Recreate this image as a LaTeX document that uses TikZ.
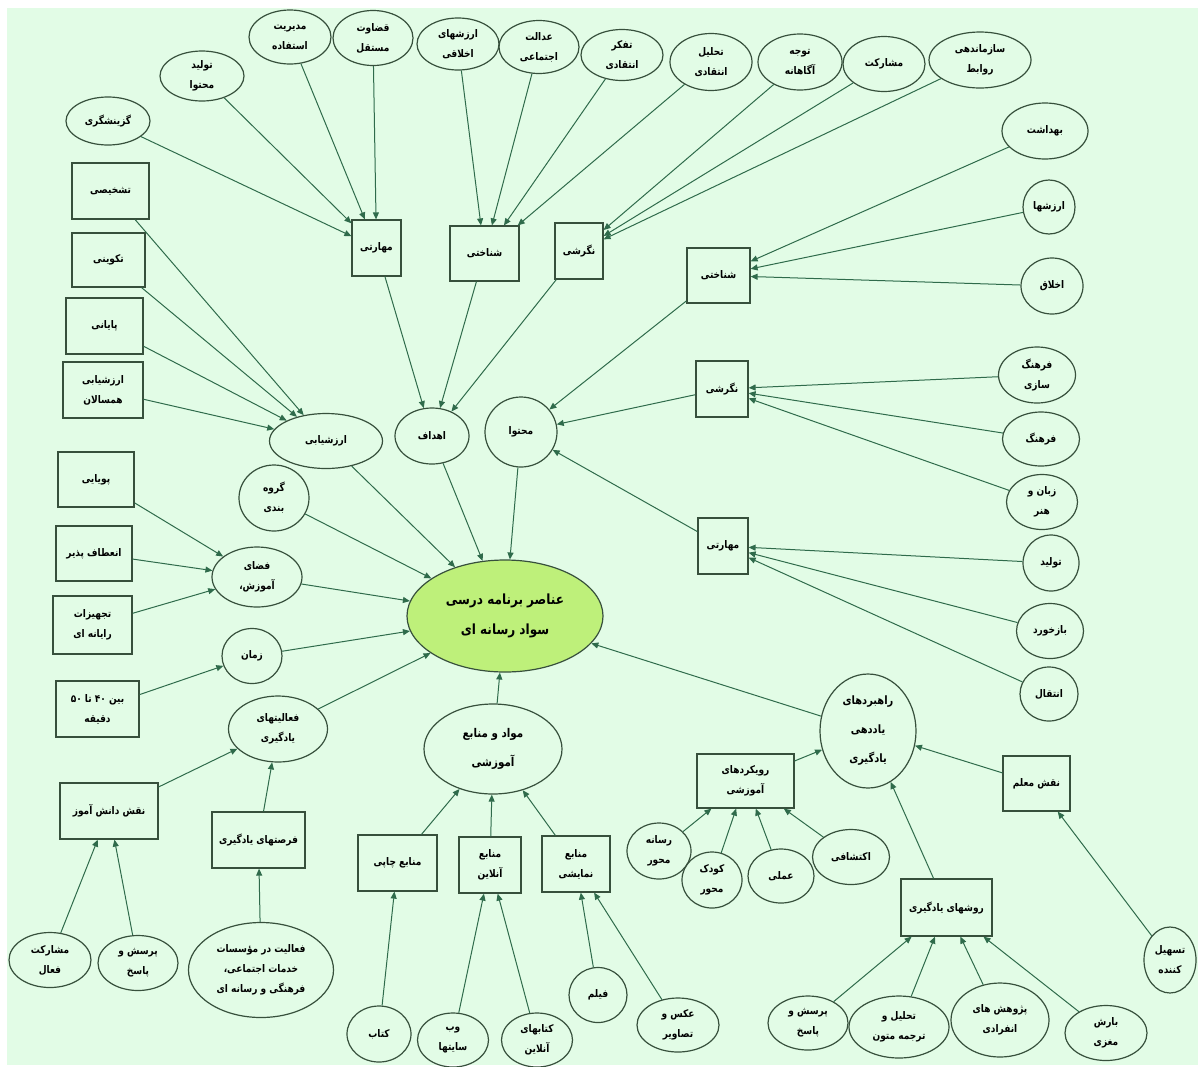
\documentclass[tikz,border=0pt]{standalone}
\usepackage{fontspec}
\usetikzlibrary{shapes.geometric,arrows.meta}
\newfontfamily\fafont[Script=Arabic,FakeStretch=0.86]{DejaVu Sans}
\TeXXeTstate=1
\newcommand{\RL}[1]{\beginR #1\endR}
\definecolor{bgmint}{RGB}{226,252,230}
\definecolor{edgecol}{RGB}{47,107,75}
\definecolor{nodecol}{RGB}{55,80,60}
\definecolor{corefill}{RGB}{190,240,122}
\tikzset{
  sz/.style 2 args={minimum width=#1pt, minimum height=#2pt},
  ell/.style={ellipse, draw=nodecol, line width=1.2pt, inner sep=0pt, align=center,
    font=\fafont\bfseries\fontsize{10.5}{20}\selectfont},
  rbox/.style={rectangle, draw=nodecol, line width=1.2pt, inner sep=0pt, align=center,
    font=\fafont\bfseries\fontsize{10.5}{20}\selectfont},
  arr/.style={draw=edgecol, line width=1pt, -{Triangle[length=7pt,width=6pt]}},
}
\begin{document}
\begin{tikzpicture}[x=1pt,y=-1pt]
\useasboundingbox (0,0) rectangle (1198,1066);
\fill[white] (0,0) rectangle (1198,1066);
\fill[bgmint] (7,8) rectangle (1198,1065);
% top row
\node[ell, sz={84}{48}] (n1) at (108,121) {\RL{گزینشگری}};
\node[ell, sz={84}{50}] (n2) at (202,76) {\RL{تولید}\\\RL{محتوا}};
\node[ell, sz={82}{54}] (n3) at (290,37) {\RL{مدیریت}\\\RL{استفاده}};
\node[ell, sz={80}{55}] (n4) at (373,38) {\RL{قضاوت}\\\RL{مستقل}};
\node[ell, sz={82}{52}] (n5) at (458,44) {\RL{ارزشهای}\\\RL{اخلاقی}};
\node[ell, sz={80}{53}] (n6) at (539,47) {\RL{عدالت}\\\RL{اجتماعی}};
\node[ell, sz={82}{51}] (n7) at (622,55) {\RL{تفکر}\\\RL{انتقادی}};
\node[ell, sz={82}{57}] (n8) at (711,62) {\RL{تحلیل}\\\RL{انتقادی}};
\node[ell, sz={84}{56}] (n9) at (800,62) {\RL{توجه}\\\RL{آگاهانه}};
\node[ell, sz={82}{55}] (n10) at (884,64) {\RL{مشارکت}};
\node[ell, sz={102}{56}] (n11) at (980,60) {\RL{سازماندهی}\\\RL{روابط}};
% right column
\node[ell, sz={86}{56}] (r1) at (1045,131) {\RL{بهداشت}};
\node[ell, sz={52}{54}] (r2) at (1049,207) {\RL{ارزشها}};
\node[ell, sz={62}{56}] (r3) at (1052,286) {\RL{اخلاق}};
\node[ell, sz={77}{56}] (r4) at (1037,375) {\RL{فرهنگ}\\\RL{سازی}};
\node[ell, sz={77}{54}] (r5) at (1041,439) {\RL{فرهنگ}};
\node[ell, sz={71}{55}] (r6) at (1042,502) {\RL{زبان و}\\\RL{هنر}};
\node[ell, sz={56}{56}] (r7) at (1051,563) {\RL{تولید}};
\node[ell, sz={67}{55}] (r8) at (1050,631) {\RL{بازخورد}};
\node[ell, sz={58}{54}] (r9) at (1049,694) {\RL{انتقال}};
% boxes
\node[rbox, sz={49}{56}] (b1) at (376.5,248) {\RL{مهارتی}};
\node[rbox, sz={69}{55}] (b2) at (484.5,253.5) {\RL{شناختی}};
\node[rbox, sz={48}{56}] (b3) at (579,251) {\RL{نگرشی}};
\node[rbox, sz={63}{55}] (b4) at (718.5,275.5) {\RL{شناختی}};
\node[rbox, sz={52}{56}] (b5) at (722,389) {\RL{نگرشی}};
\node[rbox, sz={50}{56}] (b6) at (723,546) {\RL{مهارتی}};
% middle ring
\node[ell, sz={113}{55}] (eval) at (326,441) {\RL{ارزشیابی}};
\node[ell, sz={74}{56}] (goal) at (432,436) {\RL{اهداف}};
\node[ell, sz={72}{70}] (cont) at (521,432) {\RL{محتوا}};
% left boxes
\node[rbox, sz={77}{56}] (l1) at (110.5,191) {\RL{تشخیصی}};
\node[rbox, sz={73}{54}] (l2) at (108.5,260) {\RL{تکوینی}};
\node[rbox, sz={77}{56}] (l3) at (104.5,326) {\RL{پایانی}};
\node[rbox, sz={80}{56}] (l4) at (103,390) {\RL{ارزشیابی}\\\RL{همسالان}};
\node[ell, sz={70}{66}] (grp) at (274,498) {\RL{گروه}\\\RL{بندی}};
\node[rbox, sz={76}{55}] (l5) at (96,479.5) {\RL{پویایی}};
\node[rbox, sz={76}{55}] (l6) at (94,553.5) {\RL{انعطاف پذیر}};
\node[rbox, sz={79}{58}] (l7) at (92.5,625) {\RL{تجهیزات}\\\RL{رایانه ای}};
\node[ell, sz={90}{60}] (space) at (257,577) {\RL{فضای}\\\RL{آموزش،}};
\node[ell, sz={60}{55}] (time) at (252,656) {\RL{زمان}};
\node[rbox, sz={83}{56}] (l8) at (97.5,709) {\RL{بین ۴۰ تا ۵۰}\\\RL{دقیقه}};
\node[ell, sz={99}{66}] (act) at (278,729) {\RL{فعالیتهای}\\\RL{یادگیری}};
\node[rbox, sz={98}{56}] (l9) at (109,811) {\RL{نقش دانش آموز}};
\node[rbox, sz={93}{56}] (l10) at (258.5,840) {\RL{فرصتهای یادگیری}};
\node[ell, sz={82}{55}] (a1) at (50,960) {\RL{مشارکت}\\\RL{فعال}};
\node[ell, sz={80}{55}] (a2) at (138,963) {\RL{پرسش و}\\\RL{پاسخ}};
\node[ell, sz={145}{95}] (a3) at (261,970) {\RL{فعالیت در مؤسسات}\\\RL{خدمات اجتماعی،}\\\RL{فرهنگی و رسانه ای}};
% center
\node[ellipse, draw=nodecol, line width=1.2pt, fill=corefill, inner sep=0pt, align=center,
  sz={196}{112}, font=\fafont\bfseries\fontsize{14}{30}\selectfont] (core) at (505,616)
  {\RL{عناصر برنامه درسی}\\\RL{سواد رسانه ای}};
% bottom middle
\node[ell, sz={138}{90}, font=\fafont\bfseries\fontsize{12}{29}\selectfont] (mat) at (493,749) {\RL{مواد و منابع}\\\RL{آموزشی}};
\node[rbox, sz={79}{56}] (m1) at (397.5,863) {\RL{منابع چاپی}};
\node[rbox, sz={62}{56}] (m2) at (490,865) {\RL{منابع}\\\RL{آنلاین}};
\node[rbox, sz={68}{56}] (m3) at (576,864) {\RL{منابع}\\\RL{نمایشی}};
\node[ell, sz={64}{56}] (c1) at (379,1034) {\RL{کتاب}};
\node[ell, sz={71}{54}] (c2) at (453,1040) {\RL{وب}\\\RL{سایتها}};
\node[ell, sz={71}{54}] (c3) at (537,1040) {\RL{کتابهای}\\\RL{آنلاین}};
\node[ell, sz={58}{55}] (c4) at (598,995) {\RL{فیلم}};
\node[ell, sz={82}{54}] (c5) at (678,1025) {\RL{عکس و}\\\RL{تصاویر}};
% bottom right
\node[ell, sz={96}{114}, font=\fafont\bfseries\fontsize{11.5}{29}\selectfont] (str) at (868,731) {\RL{راهبردهای}\\\RL{یاددهی}\\\RL{یادگیری}};
\node[rbox, sz={97}{54}] (s1) at (745.5,781) {\RL{رویکردهای}\\\RL{آموزشی}};
\node[ell, sz={64}{56}] (s2) at (659,851) {\RL{رسانه}\\\RL{محور}};
\node[ell, sz={60}{56}] (s3) at (712,880) {\RL{کودک}\\\RL{محور}};
\node[ell, sz={66}{54}] (s4) at (781,876) {\RL{عملی}};
\node[ell, sz={77}{55}] (s5) at (851,857) {\RL{اکتشافی}};
\node[rbox, sz={67}{55}] (t1) at (1036.5,783.5) {\RL{نقش معلم}};
\node[ell, sz={52}{66}] (t2) at (1170,960) {\RL{تسهیل}\\\RL{کننده}};
\node[rbox, sz={91}{57}] (s6) at (946.5,907.5) {\RL{روشهای یادگیری}};
\node[ell, sz={80}{54}] (s7) at (808,1023) {\RL{پرسش و}\\\RL{پاسخ}};
\node[ell, sz={100}{62}] (s8) at (899,1027) {\RL{تحلیل و}\\\RL{ترجمه متون}};
\node[ell, sz={98}{74}] (s9) at (1000,1020) {\RL{پژوهش های}\\\RL{انفرادی}};
\node[ell, sz={82}{55}] (s10) at (1106,1033) {\RL{بارش}\\\RL{مغزی}};
% edges
\foreach \s in {n1,n2,n3,n4} \draw[arr] (\s) -- (b1);
\foreach \s in {n5,n6,n7,n8} \draw[arr] (\s) -- (b2);
\foreach \s in {n9,n10,n11} \draw[arr] (\s) -- (b3);
\foreach \s in {r1,r2,r3} \draw[arr] (\s) -- (b4);
\foreach \s in {r4,r5,r6} \draw[arr] (\s) -- (b5);
\foreach \s in {r7,r8,r9} \draw[arr] (\s) -- (b6);
\foreach \s in {b1,b2,b3} \draw[arr] (\s) -- (goal);
\foreach \s in {b4,b5,b6} \draw[arr] (\s) -- (cont);
\foreach \s in {l1,l2,l3,l4} \draw[arr] (\s) -- (eval);
\foreach \s in {l5,l6,l7} \draw[arr] (\s) -- (space);
\draw[arr] (l8) -- (time);
\foreach \s in {l9,l10} \draw[arr] (\s) -- (act);
\foreach \s in {a1,a2} \draw[arr] (\s) -- (l9);
\draw[arr] (a3) -- (l10);
\foreach \s in {m1,m2,m3} \draw[arr] (\s) -- (mat);
\draw[arr] (c1) -- (m1);
\foreach \s in {c2,c3} \draw[arr] (\s) -- (m2);
\foreach \s in {c4,c5} \draw[arr] (\s) -- (m3);
\foreach \s in {s1,t1,s6} \draw[arr] (\s) -- (str);
\foreach \s in {s2,s3,s4,s5} \draw[arr] (\s) -- (s1);
\draw[arr] (t2) -- (t1);
\foreach \s in {s7,s8,s9,s10} \draw[arr] (\s) -- (s6);
\foreach \s in {eval,goal,cont,grp,space,time,act,mat,str} \draw[arr] (\s) -- (core);
\end{tikzpicture}
\end{document}
